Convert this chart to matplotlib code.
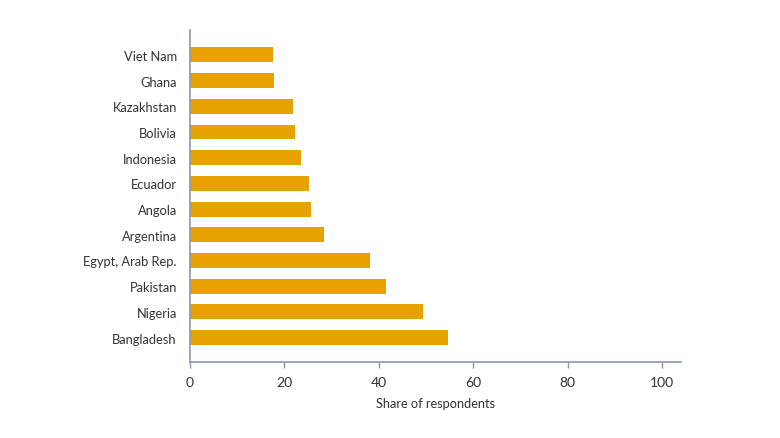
import matplotlib
matplotlib.use("Agg")
import matplotlib.pyplot as plt

countries = ["Bangladesh", "Nigeria", "Pakistan", "Egypt, Arab Rep.", "Argentina",
             "Angola", "Ecuador", "Indonesia", "Bolivia", "Kazakhstan", "Ghana", "Viet Nam"]
share = [54.7, 49.4, 41.6, 38.1, 28.4, 25.6, 25.2, 23.6, 22.3, 21.9, 17.7, 17.5]

bar_color = "#E8A200"
axis_color = "#8C96AA"
text_color = "#333333"

plt.rcParams["font.family"] = ["Lato", "DejaVu Sans"]

fig = plt.figure(figsize=(7.8, 4.39), dpi=100)
ax = fig.add_axes([190 / 780, 1 - 362.7 / 439, (681 - 190) / 780, (362.7 - 31) / 439])

ax.barh(range(len(countries)), share, height=0.58, color=bar_color)
ax.set_yticks(range(len(countries)))
ax.set_yticklabels(countries, fontsize=9.3, color=text_color)
ax.set_xlim(0, 104)
ax.set_ylim(-0.94, len(countries) - 1 + 0.97)
ax.set_xticks([0, 20, 40, 60, 80, 100])
ax.tick_params(axis="x", colors=axis_color, labelcolor=text_color, labelsize=10,
               length=4, width=1, pad=6)
ax.tick_params(axis="y", length=0, pad=9.5)

for side in ["top", "right"]:
    ax.spines[side].set_visible(False)
for side in ["left", "bottom"]:
    ax.spines[side].set_color(axis_color)
    ax.spines[side].set_linewidth(1.2)

ax.set_xlabel("Share of respondents", fontsize=9.2, color=text_color, labelpad=7)

fig.savefig("out.png", dpi=100)
